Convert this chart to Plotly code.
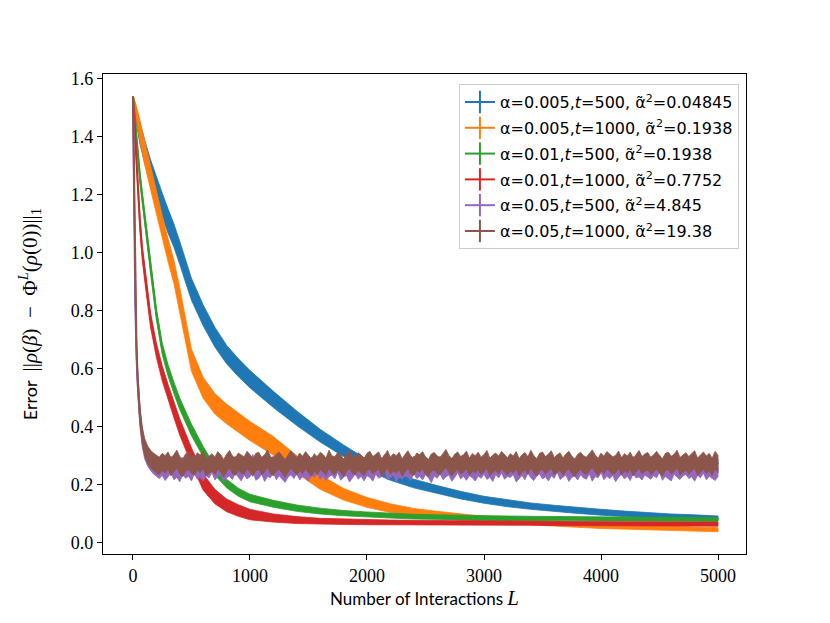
import plotly.graph_objects as go

# grid of interaction counts used for the smooth curves
L_GRID = [0, 20, 40, 60, 80, 100, 150, 200, 250, 300, 350, 400, 500, 600, 700, 800, 900, 1000,
          1200, 1400, 1600, 1800, 2000, 2200, 2400, 2600, 2800, 3000, 3200, 3400, 3600, 3800,
          4000, 4200, 4400, 4600, 4800, 5000]

blue = [1.54, 1.49, 1.45, 1.41, 1.38, 1.35, 1.28, 1.22, 1.165, 1.11, 1.06, 1.0, 0.875, 0.785, 0.71,
        0.65, 0.605, 0.565, 0.495, 0.43, 0.37, 0.318, 0.27, 0.232, 0.205, 0.184, 0.165, 0.149,
        0.137, 0.127, 0.119, 0.112, 0.106, 0.1, 0.095, 0.091, 0.088, 0.085]
blue_err = [0.0, 0.02, 0.03, 0.035, 0.04, 0.04, 0.042, 0.042, 0.042, 0.042, 0.04, 0.04, 0.038,
            0.036, 0.034, 0.032, 0.031, 0.03, 0.028, 0.025, 0.022, 0.02, 0.018, 0.016, 0.015,
            0.014, 0.013, 0.012, 0.012, 0.011, 0.011, 0.01, 0.01, 0.01, 0.009, 0.009, 0.009, 0.008]

orange = [1.54, 1.50, 1.46, 1.42, 1.38, 1.345, 1.26, 1.17, 1.09, 1.01, 0.935, 0.84, 0.63, 0.535,
          0.48, 0.445, 0.415, 0.386, 0.335, 0.27, 0.21, 0.168, 0.14, 0.12, 0.106, 0.097, 0.089,
          0.082, 0.076, 0.071, 0.066, 0.062, 0.058, 0.055, 0.052, 0.05, 0.048, 0.046]
orange_err = [0.0, 0.02, 0.03, 0.035, 0.04, 0.04, 0.04, 0.04, 0.04, 0.04, 0.04, 0.04, 0.038,
              0.036, 0.035, 0.034, 0.034, 0.033, 0.032, 0.03, 0.025, 0.02, 0.017, 0.015, 0.013,
              0.012, 0.011, 0.01, 0.009, 0.009, 0.008, 0.008, 0.008, 0.007, 0.007, 0.007, 0.007, 0.007]

green = [1.54, 1.44, 1.35, 1.26, 1.19, 1.12, 0.95, 0.79, 0.67, 0.595, 0.535, 0.48, 0.39, 0.315,
         0.25, 0.205, 0.175, 0.155, 0.135, 0.12, 0.11, 0.103, 0.098, 0.094, 0.091, 0.089, 0.087,
         0.086, 0.085, 0.085, 0.084, 0.084, 0.083, 0.083, 0.082, 0.082, 0.082, 0.081]
green_err = [0.0, 0.01, 0.015, 0.02, 0.02, 0.02, 0.02, 0.02, 0.02, 0.02, 0.02, 0.02, 0.02, 0.018,
             0.016, 0.015, 0.014, 0.013, 0.012, 0.011, 0.01, 0.009, 0.009, 0.008, 0.008, 0.008,
             0.008, 0.008, 0.008, 0.007, 0.007, 0.007, 0.007, 0.007, 0.007, 0.007, 0.007, 0.007]

red = [1.54, 1.38, 1.25, 1.1, 1.0, 0.93, 0.77, 0.665, 0.585, 0.52, 0.46, 0.40, 0.30, 0.21, 0.16,
       0.13, 0.112, 0.098, 0.086, 0.079, 0.075, 0.073, 0.072, 0.071, 0.07, 0.07, 0.069, 0.069,
       0.068, 0.068, 0.067, 0.067, 0.067, 0.066, 0.066, 0.066, 0.065, 0.065]
red_err = [0.0, 0.015, 0.02, 0.025, 0.025, 0.025, 0.025, 0.025, 0.026, 0.027, 0.028, 0.028, 0.028,
           0.028, 0.025, 0.022, 0.02, 0.018, 0.014, 0.012, 0.01, 0.009, 0.009, 0.008, 0.008, 0.008,
           0.008, 0.008, 0.007, 0.007, 0.007, 0.007, 0.007, 0.007, 0.007, 0.007, 0.007, 0.007]

# the two fast (noisy) runs use a finer grid
L_NOISY = [0, 10, 20, 30, 40, 60, 80, 100, 125, 150, 175, 200] + list(range(225, 5001, 25))

purple = [1.54, 1.16, 0.82, 0.65, 0.55, 0.43, 0.36, 0.32, 0.295, 0.28, 0.268, 0.26,
          0.252, 0.263, 0.245, 0.258, 0.27, 0.248, 0.256, 0.241, 0.265, 0.253, 0.26, 0.244,
          0.268, 0.25, 0.257, 0.243, 0.262, 0.254, 0.273, 0.247, 0.259, 0.266, 0.24, 0.255,
          0.261, 0.249, 0.27, 0.256, 0.244, 0.264, 0.251, 0.258, 0.275, 0.246, 0.253, 0.267,
          0.242, 0.259, 0.255, 0.271, 0.248, 0.262, 0.25, 0.239, 0.257, 0.265, 0.252, 0.269,
          0.247, 0.26, 0.254, 0.243, 0.266, 0.256, 0.272, 0.249, 0.261, 0.245, 0.258, 0.264,
          0.251, 0.274, 0.246, 0.257, 0.263, 0.24, 0.255, 0.268, 0.25, 0.26, 0.244, 0.262,
          0.256, 0.243, 0.267, 0.253, 0.259, 0.276, 0.248, 0.254, 0.265, 0.241, 0.258, 0.25,
          0.263, 0.257, 0.245, 0.27, 0.252, 0.26, 0.247, 0.266, 0.255, 0.238, 0.261, 0.253,
          0.269, 0.248, 0.258, 0.264, 0.243, 0.256, 0.273, 0.251, 0.26, 0.246, 0.262, 0.255,
          0.244, 0.261, 0.253, 0.267, 0.249, 0.257, 0.242, 0.265, 0.254, 0.271, 0.25, 0.259,
          0.256, 0.266, 0.24, 0.252, 0.263, 0.248, 0.27, 0.255, 0.245, 0.26, 0.268, 0.251,
          0.258, 0.244, 0.262, 0.253, 0.275, 0.249, 0.257, 0.264, 0.242, 0.256, 0.261, 0.247,
          0.265, 0.254, 0.25, 0.268, 0.243, 0.259, 0.255, 0.272, 0.248, 0.26, 0.252, 0.263,
          0.241, 0.257, 0.266, 0.251, 0.26, 0.245, 0.269, 0.254, 0.258, 0.247, 0.264, 0.256,
          0.25, 0.262, 0.255, 0.274, 0.246, 0.259, 0.253, 0.244, 0.267, 0.257, 0.249, 0.261,
          0.266, 0.252, 0.258, 0.243, 0.263, 0.255, 0.27, 0.248, 0.26, 0.254, 0.245, 0.259]

brown = [1.54, 1.2, 0.85, 0.68, 0.57, 0.44, 0.37, 0.33, 0.305, 0.29, 0.28, 0.272,
         0.266, 0.279, 0.271, 0.284, 0.262, 0.275, 0.29, 0.268, 0.259, 0.277, 0.283, 0.27,
         0.264, 0.281, 0.273, 0.287, 0.261, 0.269, 0.278, 0.266, 0.285, 0.274, 0.258, 0.276,
         0.289, 0.27, 0.263, 0.28, 0.272, 0.267, 0.286, 0.275, 0.26, 0.279, 0.283, 0.265,
         0.274, 0.291, 0.268, 0.262, 0.277, 0.284, 0.27, 0.257, 0.273, 0.288, 0.276, 0.264,
         0.28, 0.269, 0.285, 0.272, 0.26, 0.278, 0.266, 0.283, 0.275, 0.263, 0.29, 0.271,
         0.267, 0.282, 0.274, 0.259, 0.276, 0.287, 0.27, 0.265, 0.281, 0.273, 0.262, 0.279,
         0.286, 0.268, 0.277, 0.284, 0.261, 0.272, 0.289, 0.266, 0.278, 0.271, 0.283, 0.26,
         0.275, 0.288, 0.269, 0.263, 0.28, 0.274, 0.285, 0.267, 0.258, 0.277, 0.282, 0.27,
         0.265, 0.279, 0.292, 0.272, 0.261, 0.276, 0.284, 0.268, 0.274, 0.287, 0.263, 0.278,
         0.271, 0.283, 0.266, 0.275, 0.289, 0.262, 0.273, 0.28, 0.269, 0.286, 0.276, 0.264,
         0.278, 0.27, 0.285, 0.261, 0.274, 0.282, 0.267, 0.29, 0.272, 0.26, 0.279, 0.284,
         0.268, 0.276, 0.288, 0.265, 0.273, 0.281, 0.263, 0.277, 0.286, 0.27, 0.259, 0.275,
         0.283, 0.271, 0.266, 0.279, 0.291, 0.274, 0.262, 0.28, 0.269, 0.285, 0.276, 0.267,
         0.272, 0.287, 0.264, 0.278, 0.27, 0.284, 0.261, 0.275, 0.289, 0.268, 0.277, 0.282,
         0.266, 0.274, 0.286, 0.271, 0.26, 0.279, 0.283, 0.269, 0.276, 0.29, 0.265, 0.273,
         0.281, 0.268, 0.277, 0.288, 0.263, 0.275, 0.284, 0.27, 0.279, 0.262, 0.286, 0.272]

purple_err = 0.03
brown_err = 0.03

labels = [
    "α=0.005,<i>t</i>=500, α\u0303<sup>2</sup>=0.04845",
    "α=0.005,<i>t</i>=1000, α\u0303<sup>2</sup>=0.1938",
    "α=0.01,<i>t</i>=500, α\u0303<sup>2</sup>=0.1938",
    "α=0.01,<i>t</i>=1000, α\u0303<sup>2</sup>=0.7752",
    "α=0.05,<i>t</i>=500, α\u0303<sup>2</sup>=4.845",
    "α=0.05,<i>t</i>=1000, α\u0303<sup>2</sup>=19.38",
]
colors = ["#1f77b4", "#ff7f0e", "#2ca02c", "#d62728", "#9467bd", "#8c564b"]


def err_list(err, n):
    if isinstance(err, list):
        return err
    # start point has no spread
    return [0.0, 0.012, 0.02] + [err] * (n - 3)


series = [
    (L_GRID, blue, blue_err),
    (L_GRID, orange, orange_err),
    (L_GRID, green, green_err),
    (L_GRID, red, red_err),
    (L_NOISY, purple, purple_err),
    (L_NOISY, brown, brown_err),
]

fig = go.Figure()

for (xs, ys, err), color in zip(series, colors):
    e = err_list(err, len(ys))
    upper = [y + d for y, d in zip(ys, e)]
    lower = [y - d for y, d in zip(ys, e)]
    fig.add_trace(go.Scatter(
        x=list(xs) + list(xs)[::-1],
        y=upper + lower[::-1],
        fill='toself', fillcolor=color,
        line=dict(width=0.8, color=color),
        mode='lines', hoverinfo='skip', showlegend=False,
    ))
    fig.add_trace(go.Scatter(
        x=xs, y=ys, mode='lines',
        line=dict(color=color, width=2),
        showlegend=False,
    ))

# legend handles drawn like errorbar handles (line with a vertical tick)
for i, (name, color) in enumerate(zip(labels, colors)):
    fig.add_trace(go.Scatter(
        x=[None], y=[None], name=name, mode='lines+markers',
        line=dict(color=color, width=2),
        marker=dict(symbol='line-ns', size=16, line=dict(width=2, color=color)),
        legendgroup=str(i),
    ))

axis_common = dict(
    showline=True, linecolor='black', linewidth=1.3, mirror=True,
    ticks='outside', ticklen=5, tickwidth=1.2, tickcolor='black',
    showgrid=False, zeroline=False,
    tickfont=dict(family='Liberation Serif', size=18, color='black'),
)

MATH = '<span style="font-family:Liberation Serif;font-size:21px">'
SP = '\u2002'

fig.update_xaxes(range=[-256, 5239], tickvals=[0, 1000, 2000, 3000, 4000, 5000],
                 title=dict(text='Number of Interactions ' + MATH + '<i>L</i></span>', standoff=8,
                            font=dict(family='Lato', size=17, color='black')),
                 **axis_common)
fig.update_yaxes(range=[-0.038, 1.617], tickvals=[0, 0.2, 0.4, 0.6, 0.8, 1.0, 1.2, 1.4, 1.6],
                 tickformat='.1f',
                 title=dict(text='Error' + SP + MATH + '||<i>ρ</i>(<i>β</i>)' + SP + '−' + SP
                                 + 'Φ<sup><i>L</i></sup>(<i>ρ</i>(0))||<sub>1</sub></span>',
                            standoff=28, font=dict(family='Lato', size=18, color='black')),
                 **axis_common)

# the page body adds an 8px offset, so the figure is a bit smaller than the window
fig.update_layout(
    width=822, height=615,
    margin=dict(l=95, r=84, t=66, b=69),
    paper_bgcolor='white', plot_bgcolor='white',
    legend=dict(x=0.989, y=0.979, xanchor='right', yanchor='top',
                bgcolor='rgba(255,255,255,0.8)', bordercolor='#cccccc', borderwidth=1,
                font=dict(family='DejaVu Sans', size=16, color='black'),
                tracegroupgap=2),
)

fig.write_html("out.html")
